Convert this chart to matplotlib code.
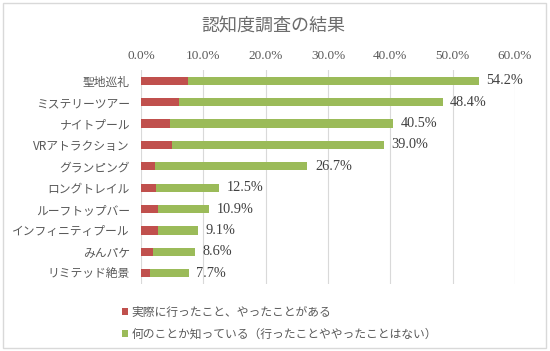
import matplotlib.pyplot as plt
from matplotlib.patches import Rectangle

categories = ['聖地巡礼', 'ミステリーツアー', 'ナイトプール', 'VRアトラクション', 'グランピング',
              'ロングトレイル', 'ルーフトップバー', 'インフィニティプール', 'みんパケ', 'リミテッド絶景']
visited = [7.6, 6.1, 4.7, 4.9, 2.3, 2.4, 2.8, 2.7, 2.0, 1.5]
total = [54.2, 48.4, 40.5, 39.0, 26.7, 12.5, 10.9, 9.1, 8.6, 7.7]
known = [t - v for t, v in zip(total, visited)]
xticks = [0, 10, 20, 30, 40, 50, 60]

series_names = ['実際に行ったこと、やったことがある', '何のことか知っている（行ったことややったことはない）']
red = '#C0504D'
green = '#9BBB59'
gray = '#595959'

plt.rcParams['font.family'] = ['Noto Sans CJK JP', 'DejaVu Sans']

fig = plt.figure(figsize=(5.5, 3.51), dpi=100)
fig.patches.append(Rectangle((0.006, 0.008), 0.986, 0.984, transform=fig.transFigure,
                             fill=False, edgecolor='#D9D9D9', linewidth=1))

ax = fig.add_axes([141 / 550, 1 - 284 / 351, (515 - 141) / 550, (284 - 70) / 351])
y = list(range(len(categories)))
ax.barh(y, visited, height=0.38, color=red, label=series_names[0])
ax.barh(y, known, left=visited, height=0.38, color=green, label=series_names[1])

for i, t in enumerate(total):
    ax.text(t + 1.2, i, f'{t:.1f}%', va='center', ha='left', fontsize=10.3,
            family='Liberation Serif', color='#404040')

ax.set_xlim(0, 60)
ax.set_ylim(len(categories) - 0.5, -0.5)
ax.set_xticks(xticks)
ax.set_xticklabels([f'{v:.1f}%' for v in xticks], family='Liberation Serif', fontsize=9.5, color=gray)
ax.xaxis.tick_top()
ax.tick_params(axis='x', length=0, pad=6)
ax.set_yticks(y)
ax.set_yticklabels(categories, fontsize=8.5, color=gray)
ax.tick_params(axis='y', length=0, pad=8)
ax.grid(axis='x', color='#D9D9D9', linewidth=0.8)
ax.set_axisbelow(True)
for s in ax.spines.values():
    s.set_visible(False)

fig.text(0.497, 1 - 26 / 351, '認知度調査の結果', ha='center', va='center', fontsize=13,
         color='#6d6d6d')

fig.legend(loc='upper left', bbox_to_anchor=(116 / 550, 1 - 300 / 351), frameon=False,
           fontsize=8.5, labelcolor=gray, handlelength=0.55, handleheight=0.55,
           handletextpad=0.25, labelspacing=0.75, borderpad=0)

fig.savefig('out.png', dpi=100)
